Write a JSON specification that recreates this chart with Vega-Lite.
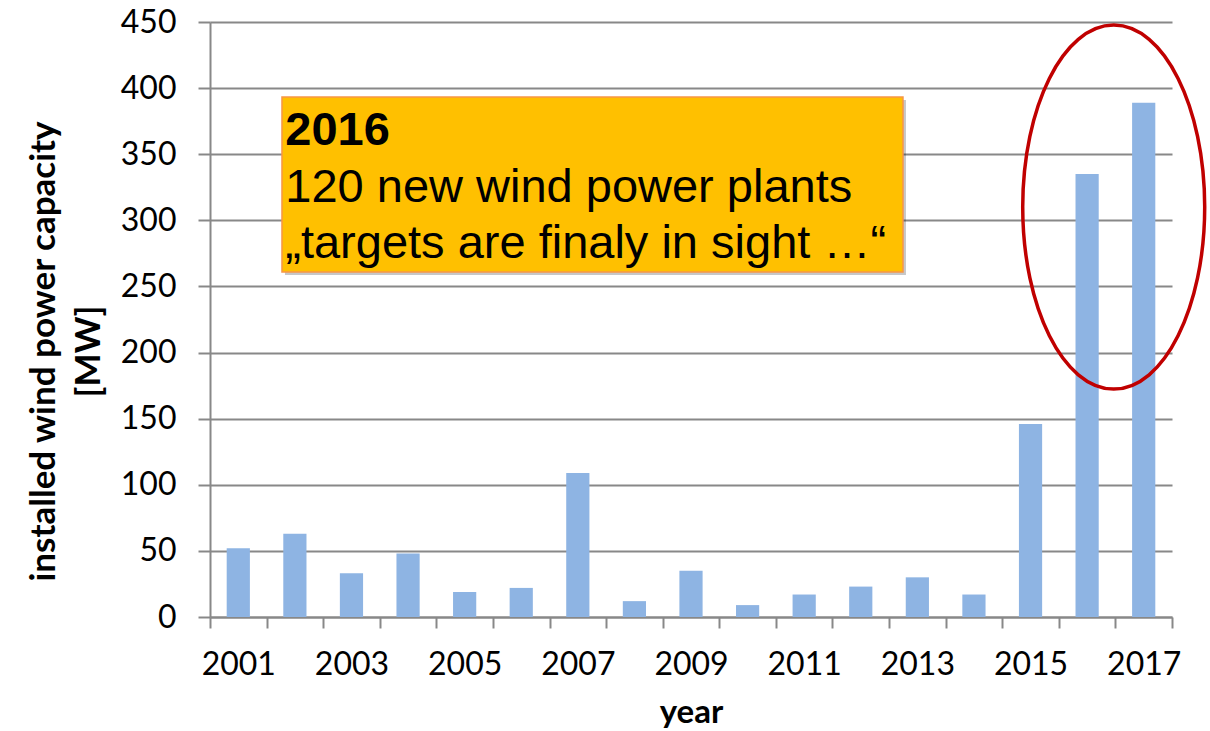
{
  "$schema": "https://vega.github.io/schema/vega-lite/v6.json",
  "width": 962,
  "height": 595,
  "autosize": {"type": "none"},
  "padding": {"left": 210, "top": 22, "right": 38, "bottom": 114},
  "background": "white",
  "config": {"view": {"stroke": null}},
  "layer": [
    {
      "data": {"values": [
        {"year": 2001, "capacity": 52},
        {"year": 2002, "capacity": 63},
        {"year": 2003, "capacity": 33},
        {"year": 2004, "capacity": 48},
        {"year": 2005, "capacity": 19},
        {"year": 2006, "capacity": 22},
        {"year": 2007, "capacity": 109},
        {"year": 2008, "capacity": 12},
        {"year": 2009, "capacity": 35},
        {"year": 2010, "capacity": 9},
        {"year": 2011, "capacity": 17},
        {"year": 2012, "capacity": 23},
        {"year": 2013, "capacity": 30},
        {"year": 2014, "capacity": 17},
        {"year": 2015, "capacity": 146},
        {"year": 2016, "capacity": 335},
        {"year": 2017, "capacity": 389}
      ]},
      "mark": {"type": "bar", "color": "#8EB4E3", "width": {"band": 0.41}},
      "encoding": {
        "x": {
          "field": "year", "type": "ordinal",
          "scale": {"paddingInner": 0, "paddingOuter": 0},
          "axis": {
            "labelExpr": "datum.value % 2 == 1 ? datum.label : ''",
            "labelAngle": 0, "labelFont": "Lato", "labelFontSize": 32, "labelColor": "black",
            "labelPadding": 21, "tickBand": "extent", "tickSize": 11, "tickColor": "#888", "tickWidth": 2,
            "domainColor": "#888", "domainWidth": 2, "grid": false,
            "title": "year", "titleFont": "Lato", "titleFontSize": 33, "titleFontWeight": "bold",
            "titleColor": "black", "titlePadding": 16
          }
        },
        "y": {
          "field": "capacity", "type": "quantitative",
          "scale": {"domain": [0, 450], "nice": false},
          "axis": {
            "values": [0, 50, 100, 150, 200, 250, 300, 350, 400, 450],
            "labelFont": "Lato", "labelFontSize": 32, "labelColor": "black", "labelPadding": 22,
            "tickSize": 12, "tickColor": "#888", "tickWidth": 2,
            "domainColor": "#888", "domainWidth": 2,
            "grid": true, "gridColor": "#888", "gridWidth": 2,
            "title": ["installed wind power capacity", "[MW]"],
            "titleFont": "Lato", "titleFontSize": 35, "titleFontWeight": "bold", "titleColor": "black",
            "titleLineHeight": 45, "titlePadding": 14, "titleY": 329
          }
        }
      }
    },
    {
      "data": {"values": [{"x1": 1.272, "x2": 12.246, "capacity": 260.9, "y2": 393.3}]},
      "mark": {"type": "rect", "color": "#000000", "opacity": 0.22, "xOffset": 3, "yOffset": 3, "x2Offset": 3, "y2Offset": 3},
      "encoding": {
        "x": {"field": "x1", "type": "quantitative", "scale": {"domain": [0, 17], "nice": false, "zero": false}, "axis": null},
        "x2": {"field": "x2"},
        "y": {"field": "capacity", "type": "quantitative"},
        "y2": {"field": "y2"}
      }
    },
    {
      "data": {"values": [{"x1": 1.272, "x2": 12.246, "capacity": 260.9, "y2": 393.3}]},
      "mark": {"type": "rect", "fill": "#FFC000", "stroke": "#F79646", "strokeWidth": 1.5},
      "encoding": {
        "x": {"field": "x1", "type": "quantitative", "scale": {"domain": [0, 17], "nice": false, "zero": false}, "axis": null},
        "x2": {"field": "x2"},
        "y": {"field": "capacity", "type": "quantitative"},
        "y2": {"field": "y2"}
      }
    },
    {
      "data": {"values": [{"x": 1.33, "capacity": 357.0, "t": "2016"}]},
      "mark": {"type": "text", "font": "Liberation Sans", "fontSize": 47, "fontWeight": "bold", "align": "left", "baseline": "alphabetic", "color": "black"},
      "encoding": {
        "x": {"field": "x", "type": "quantitative", "scale": {"domain": [0, 17], "nice": false, "zero": false}, "axis": null},
        "y": {"field": "capacity", "type": "quantitative"},
        "text": {"field": "t"}
      }
    },
    {
      "data": {"values": [
        {"x": 1.33, "capacity": 313.9, "t": "120 new wind power plants"},
        {"x": 1.33, "capacity": 271.5, "t": "„targets are finaly in sight …“"}
      ]},
      "mark": {"type": "text", "font": "Liberation Sans", "fontSize": 47, "align": "left", "baseline": "alphabetic", "color": "black"},
      "encoding": {
        "x": {"field": "x", "type": "quantitative", "scale": {"domain": [0, 17], "nice": false, "zero": false}, "axis": null},
        "y": {"field": "capacity", "type": "quantitative"},
        "text": {"field": "t"}
      }
    },
    {
      "data": {"values": [{"x": 15.97, "capacity": 310}]},
      "mark": {"type": "point", "filled": false, "stroke": "#C00000", "strokeWidth": 3.5, "opacity": 1,
               "shape": "M -0.5 0 A 0.5 1 0 1 0 0.5 0 A 0.5 1 0 1 0 -0.5 0 Z", "size": 132496},
      "encoding": {
        "x": {"field": "x", "type": "quantitative", "scale": {"domain": [0, 17], "nice": false, "zero": false}, "axis": null},
        "y": {"field": "capacity", "type": "quantitative"}
      }
    }
  ],
  "resolve": {"scale": {"x": "independent"}}
}
